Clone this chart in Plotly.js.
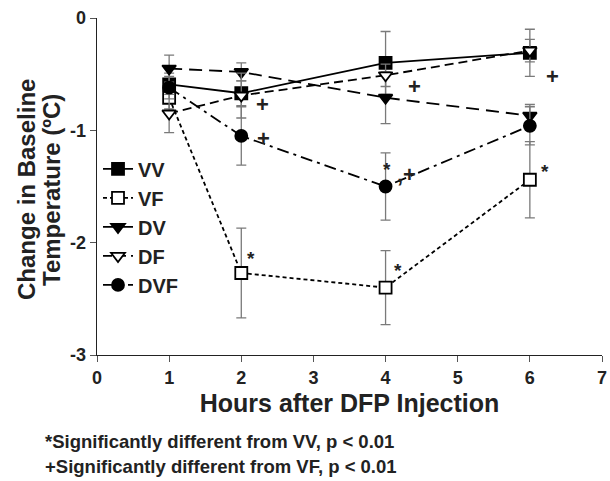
<!DOCTYPE html>
<html>
<head>
<meta charset="utf-8">
<script src="https://cdn.plot.ly/plotly-3.0.1.min.js"></script>
<style>html,body{margin:0;padding:0;background:#fff;}#chart{width:610px;height:481px;}</style>
</head>
<body>
<div id="chart"></div>
<script>
const hours = [1, 2, 4, 6];
const seriesNames = ["VV", "VF", "DV", "DF", "DVF"];
const vvValues = [-0.59, -0.67, -0.40, -0.31];
const vvErrors = [0.10, 0.11, 0.28, 0.21];
const vfValues = [-0.71, -2.27, -2.40, -1.44];
const vfErrors = [0.10, 0.40, 0.33, 0.34];
const dvValues = [-0.45, -0.48, -0.71, -0.87];
const dvErrors = [0.12, 0.08, 0.23, 0.10];
const dfValues = [-0.85, -0.69, -0.51, -0.29];
const dfErrors = [0.17, 0.20, 0.10, 0.10];
const dvfValues = [-0.62, -1.05, -1.50, -0.96];
const dvfErrors = [0.10, 0.26, 0.30, 0.17];
const xTickValues = [0, 1, 2, 3, 4, 5, 6, 7];
const yTickValues = [0, -1, -2, -3];
const xTitle = "Hours after DFP Injection";
const yTitleLines = ["Change in Baseline", "Temperature (ºC)"];
const footnotes = ["*Significantly different from VV, p < 0.01", "+Significantly different from VF, p < 0.01"];
const marks = [
  {x: 2.29, y: -0.77, t: "+"},
  {x: 2.31, y: -1.07, t: "+"},
  {x: 4.40, y: -0.61, t: "+"},
  {x: 4.02, y: -1.35, t: "*"},
  {x: 4.29, y: -1.39, t: ",+"},
  {x: 2.14, y: -2.14, t: "*"},
  {x: 4.17, y: -2.25, t: "*"},
  {x: 6.21, y: -1.37, t: "*"},
  {x: 6.31, y: -0.52, t: "+"}
];

const FONT = "Liberation Sans, Arial, sans-serif";
const errStyle = {type: "data", visible: true, color: "#7a7a7a", thickness: 1.3, width: 5};

function mk(name, ys, errs, dash, symbol, fill) {
  return {
    x: hours, y: ys, name: "<b>" + name + "</b>", type: "scatter", mode: "lines+markers",
    line: {color: "#000", width: 1.8, dash: dash},
    marker: {symbol: symbol, size: 12, color: fill, line: {color: "#000", width: 1.8}},
    error_y: Object.assign({array: errs}, errStyle)
  };
}

const data = [
  mk(seriesNames[0], vvValues, vvErrors, "solid", "square", "#000"),
  mk(seriesNames[1], vfValues, vfErrors, "4px,3px", "square", "#fff"),
  mk(seriesNames[2], dvValues, dvErrors, "13px,7px", "triangle-down", "#000"),
  mk(seriesNames[3], dfValues, dfErrors, "9px,5px", "triangle-down", "#fff"),
  mk(seriesNames[4], dvfValues, dvfErrors, "12px,5px,3px,5px", "circle", "#000")
];

const annotations = marks.map(m => ({
  x: m.x, y: m.y, xref: "x", yref: "y", text: "<b>" + m.t + "</b>", showarrow: false,
  font: {family: FONT, size: m.t === "*" ? 19 : 22, color: "#222"}
}));

const L = 97, R = 8, T = 18, B = 126, W = 610, H = 481;
const pw = W - L - R, ph = H - T - B;
const px2x = px => (px - L) / pw;
const py2y = py => 1 - (py - T) / ph;
[[441, footnotes[0]], [466, footnotes[1]]].forEach(([py, txt]) => {
  annotations.push({
    x: px2x(43), y: py2y(py), xref: "paper", yref: "paper",
    text: "<b>" + txt + "</b>", showarrow: false, xanchor: "left", yanchor: "middle",
    font: {family: FONT, size: 18.5, color: "#222"}
  });
});
[[26, yTitleLines[0]], [51, yTitleLines[1]]].forEach(([px, txt]) => {
  annotations.push({
    x: px2x(px), y: py2y(190), xref: "paper", yref: "paper",
    text: "<b>" + txt + "</b>", showarrow: false, xanchor: "center", yanchor: "middle",
    textangle: -90,
    font: {family: FONT, size: 24, color: "#222"}
  });
});

const layout = {
  width: W, height: H,
  margin: {l: L, r: R, t: T, b: B},
  paper_bgcolor: "#fff", plot_bgcolor: "#fff",
  font: {family: FONT, color: "#222"},
  showlegend: true,
  legend: {
    x: 0.002, y: 0.61, xanchor: "left", yanchor: "top",
    bgcolor: "rgba(0,0,0,0)", borderwidth: 0,
    font: {family: FONT, size: 20, color: "#222"},
    tracegroupgap: 0, itemwidth: 30
  },
  xaxis: {
    range: [0, 7], tickvals: xTickValues, ticktext: xTickValues.map(v => "<b>" + v + "</b>"),
    showgrid: false, zeroline: false, showline: true, linecolor: "#222", linewidth: 1.3,
    ticks: "outside", ticklen: 6, tickcolor: "#555", tickwidth: 1,
    tickfont: {family: FONT, size: 18, color: "#222"},
    title: {text: "<b>" + xTitle + "</b>", font: {family: FONT, size: 25, color: "#222"}, standoff: 7},
    fixedrange: true
  },
  yaxis: {
    range: [-3, 0], tickvals: yTickValues, ticktext: yTickValues.map(v => "<b>" + v + "</b>"),
    showgrid: false, zeroline: false, showline: true, linecolor: "#222", linewidth: 1.3,
    ticks: "outside", ticklen: 6, tickcolor: "#555", tickwidth: 1,
    tickfont: {family: FONT, size: 18, color: "#222"},
    fixedrange: true
  },
  annotations: annotations
};

Plotly.newPlot("chart", data, layout, {displayModeBar: false, staticPlot: true});
</script>
</body>
</html>
